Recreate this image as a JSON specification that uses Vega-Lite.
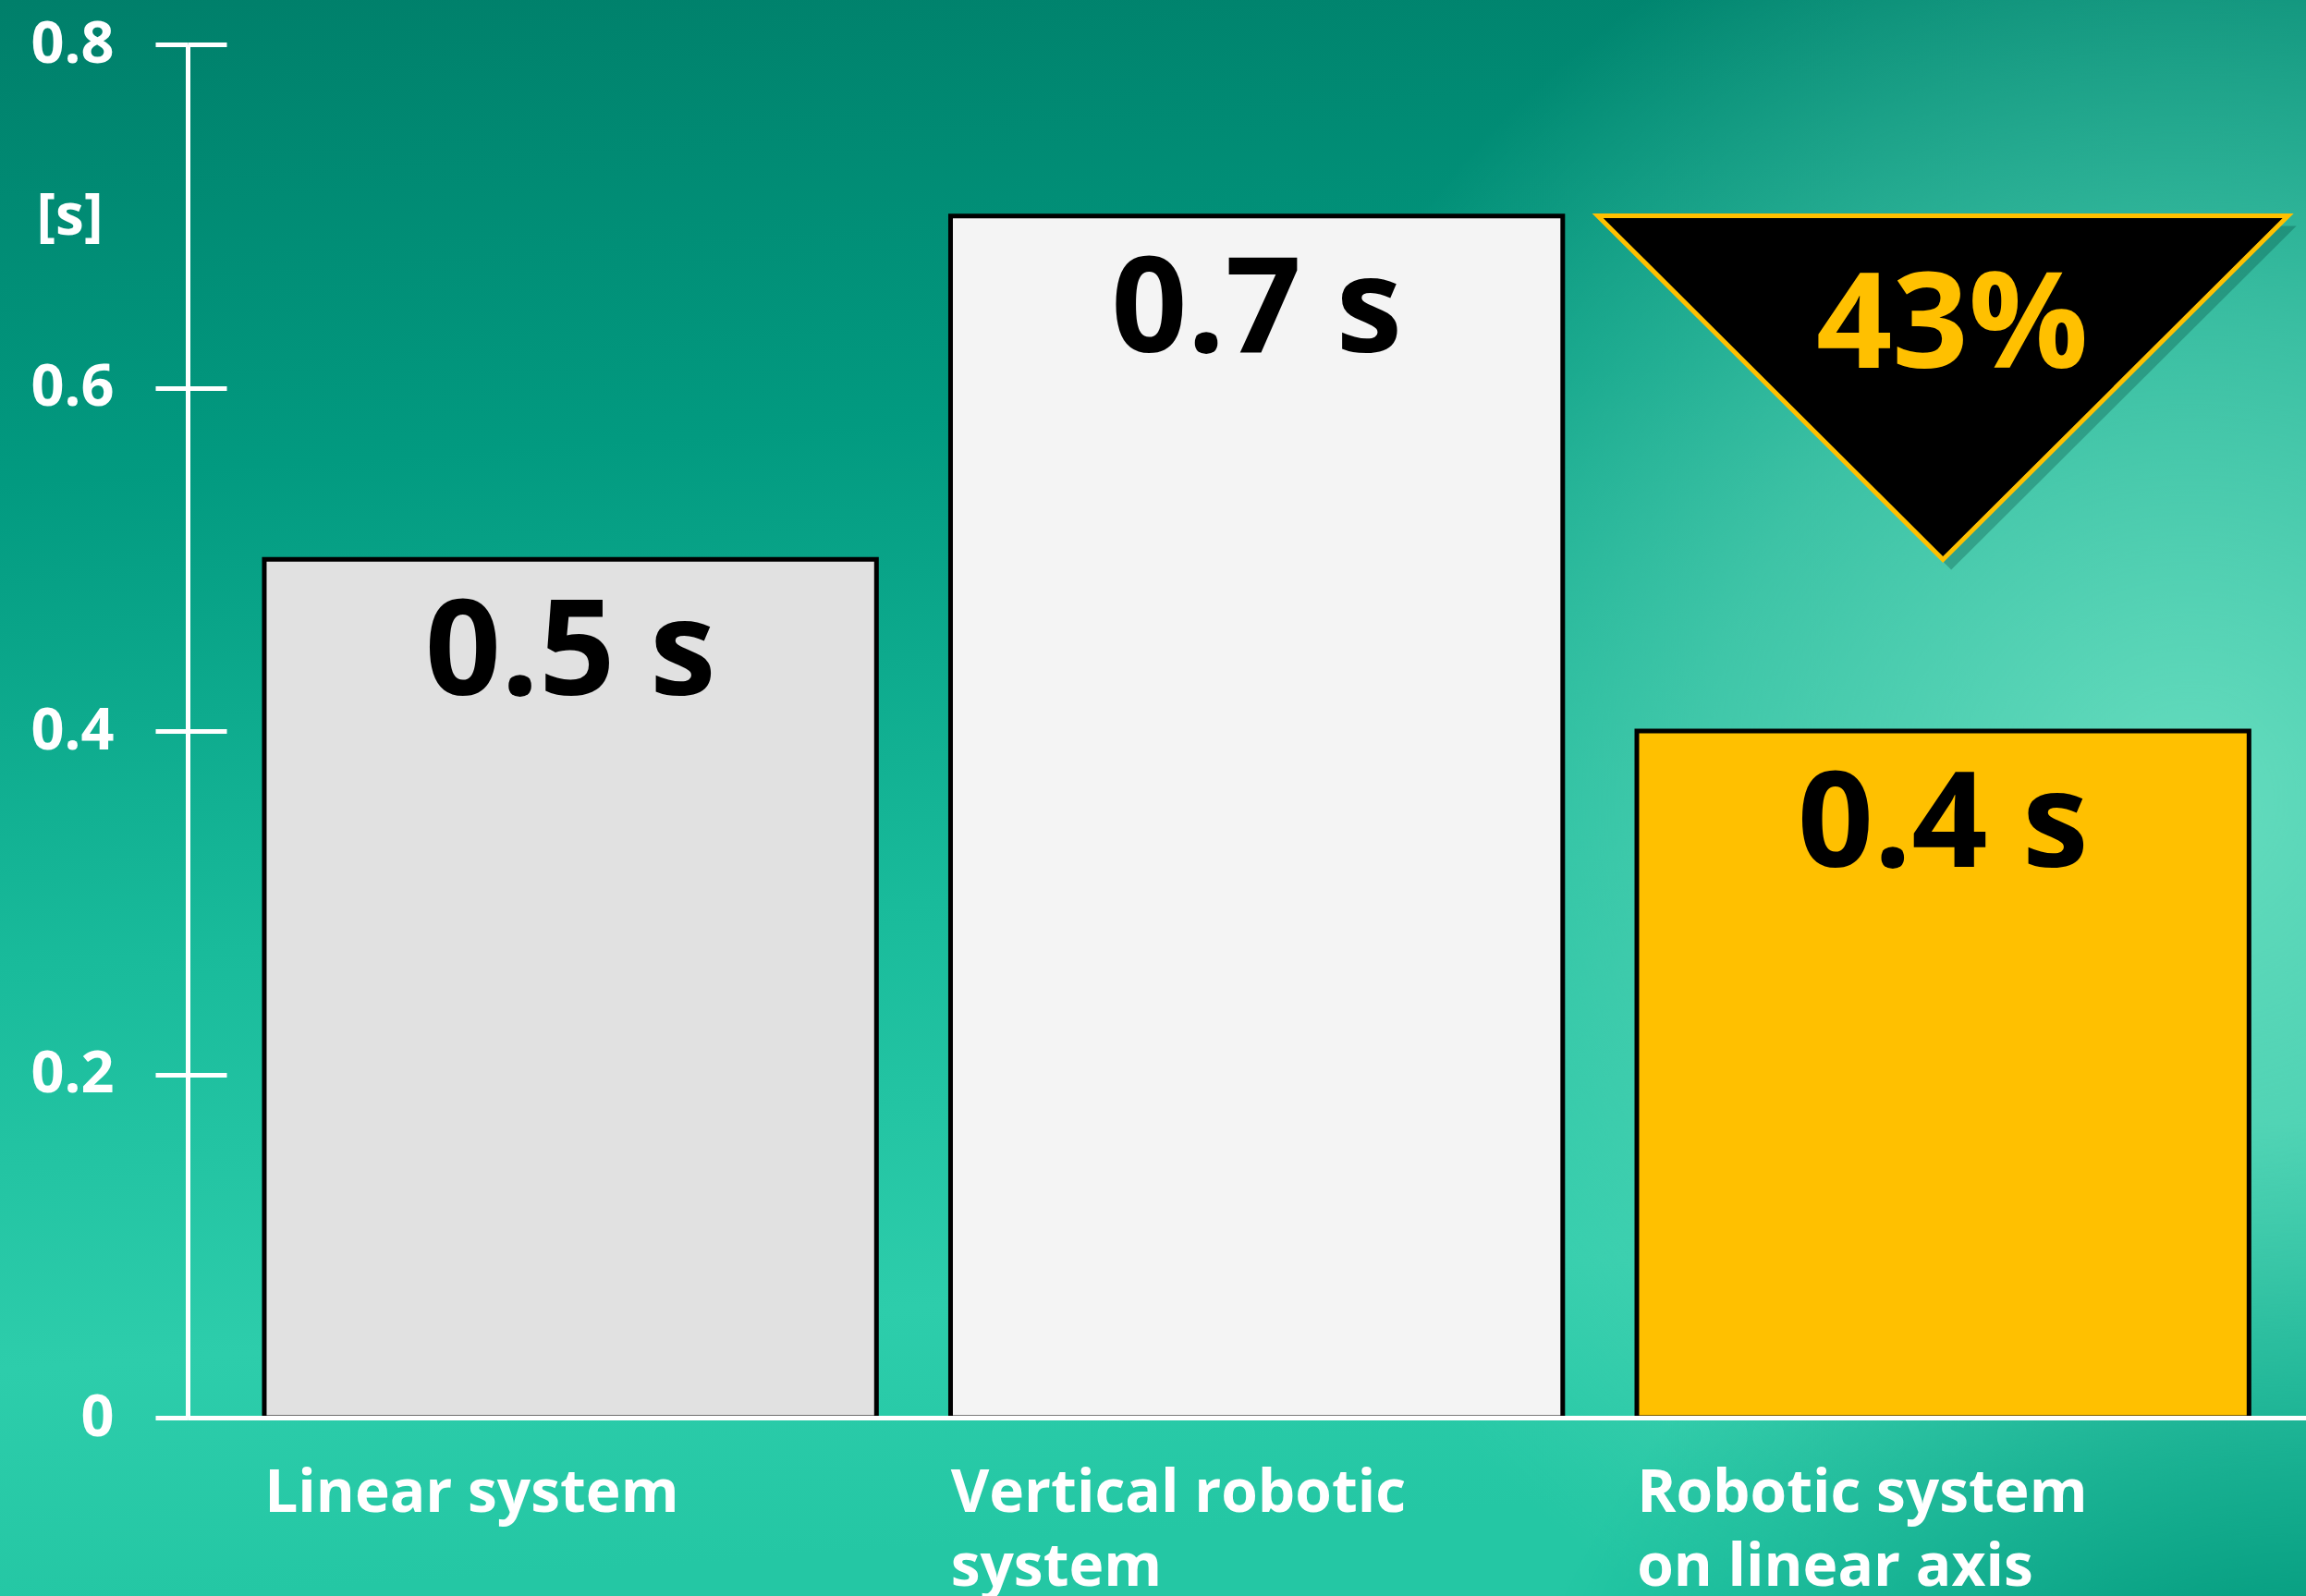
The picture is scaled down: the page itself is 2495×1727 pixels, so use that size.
{
  "$schema": "https://vega.github.io/schema/vega-lite/v6.json",
  "width": 2495,
  "height": 1727,
  "autosize": "none",
  "padding": 0,
  "background": "#15ad90",
  "config": {"view": {"stroke": null}},
  "data": {
    "values": [
      {"system": "Linear system", "time": 0.5, "label": "0.5 s"},
      {"system": "Vertical robotic system", "time": 0.7, "label": "0.7 s"},
      {"system": "Robotic system on linear axis", "time": 0.4, "label": "0.4 s"}
    ]
  },
  "layer": [
    {
      "data": {"values": [{}]},
      "mark": {
        "type": "rect",
        "fill": {
          "gradient": "linear",
          "x1": 0, "y1": 0, "x2": 0.1, "y2": 1,
          "stops": [
            {"offset": 0, "color": "#007f6a"},
            {"offset": 0.3, "color": "#029a80"},
            {"offset": 0.6, "color": "#19bb9b"},
            {"offset": 0.85, "color": "#2dcdab"},
            {"offset": 1, "color": "#24c7a4"}
          ]
        }
      },
      "encoding": {}
    },
    {
      "data": {"values": [{}]},
      "mark": {
        "type": "rect",
        "fill": {
          "gradient": "radial",
          "x1": 0.95, "y1": 0.5, "r1": 0,
          "x2": 0.95, "y2": 0.5, "r2": 0.42,
          "stops": [
            {"offset": 0, "color": "rgba(105,222,192,0.95)"},
            {"offset": 0.5, "color": "rgba(95,214,184,0.6)"},
            {"offset": 1, "color": "rgba(95,214,184,0)"}
          ]
        }
      },
      "encoding": {}
    },
    {
      "data": {"values": [{}]},
      "mark": {
        "type": "rect",
        "fill": {
          "gradient": "radial",
          "x1": 1, "y1": 1, "r1": 0,
          "x2": 1, "y2": 1, "r2": 0.36,
          "stops": [
            {"offset": 0, "color": "rgba(0,122,98,1)"},
            {"offset": 0.4, "color": "rgba(0,150,122,0.85)"},
            {"offset": 1, "color": "rgba(0,165,135,0)"}
          ]
        }
      },
      "encoding": {}
    },
    {
      "mark": {"type": "bar", "stroke": "black", "strokeWidth": 5},
      "encoding": {
        "x": {
          "field": "system",
          "type": "nominal",
          "sort": null,
          "scale": {"range": [203, 2495], "paddingInner": 0.108, "paddingOuter": 0.0974, "align": 0.5736},
          "axis": {
            "orient": "bottom",
            "offset": -193,
            "title": null,
            "domainColor": "white",
            "domainWidth": 5,
            "ticks": false,
            "tickSize": 0,
            "labelOffset": -331,
            "labelAngle": 0,
            "labelAlign": "left",
            "labelBaseline": "top",
            "labelPadding": 50,
            "labelFont": "Open Sans",
            "labelFontWeight": "bold",
            "labelFontSize": 64,
            "labelColor": "white",
            "labelLineHeight": 80,
            "labelLimit": 1200,
            "labelOverlap": false,
            "labelExpr": "datum.label == 'Vertical robotic system' ? ['Vertical robotic', 'system'] : datum.label == 'Robotic system on linear axis' ? ['Robotic system', 'on linear axis'] : datum.label",
            "zindex": 1
          }
        },
        "y": {
          "field": "time",
          "type": "quantitative",
          "scale": {"domain": [0, 0.8], "range": [1534, 48], "nice": false},
          "axis": {
            "values": [0, 0.2, 0.4, 0.6, 0.8],
            "format": "~g",
            "offset": -203,
            "domainColor": "white",
            "domainWidth": 5,
            "tickColor": "white",
            "tickWidth": 5,
            "tickSize": 35,
            "grid": true,
            "gridColor": "white",
            "gridWidth": 5,
            "gridDash": [42, 5000],
            "labelFont": "Open Sans",
            "labelFontWeight": "bold",
            "labelFontSize": 63,
            "labelColor": "white",
            "labelPadding": 45,
            "labelBaseline": "middle",
            "labelAlign": "right",
            "labelFlush": false,
            "labelOverlap": false,
            "title": "[s]",
            "titleAngle": 0,
            "titleX": -128,
            "titleY": 234,
            "titleAlign": "center",
            "titleBaseline": "middle",
            "titleFont": "Open Sans",
            "titleFontWeight": "bold",
            "titleFontSize": 62,
            "titleColor": "white",
            "zindex": 1
          }
        },
        "color": {
          "field": "system",
          "type": "nominal",
          "scale": {
            "domain": ["Linear system", "Vertical robotic system", "Robotic system on linear axis"],
            "range": ["#e1e1e1", "#f4f4f4", "#ffc000"]
          },
          "legend": null
        }
      }
    },
    {
      "mark": {
        "type": "text",
        "baseline": "alphabetic",
        "align": "center",
        "dy": 147,
        "font": "Open Sans",
        "fontWeight": "bold",
        "fontSize": 144,
        "color": "black"
      },
      "encoding": {
        "x": {"field": "system", "type": "nominal", "sort": null},
        "y": {"field": "time", "type": "quantitative"},
        "text": {"field": "label"}
      }
    },
    {
      "data": {"values": [{"system": "Robotic system on linear axis", "saving": "43%"}]},
      "mark": {
        "type": "point",
        "shape": "M-1,-0.498L1,-0.498L0,0.498Z",
        "size": 558009,
        "filled": true,
        "fill": "#00463a",
        "fillOpacity": 0.3,
        "strokeWidth": 0,
        "opacity": 1,
        "xOffset": 9,
        "yOffset": 11
      },
      "encoding": {
        "x": {"field": "system", "type": "nominal", "sort": null},
        "y": {"datum": 0.6, "type": "quantitative"}
      }
    },
    {
      "data": {"values": [{"system": "Robotic system on linear axis", "saving": "43%"}]},
      "mark": {
        "type": "point",
        "shape": "M-1,-0.498L1,-0.498L0,0.498Z",
        "size": 558009,
        "filled": true,
        "fill": "black",
        "stroke": "#ffc000",
        "strokeWidth": 5,
        "opacity": 1
      },
      "encoding": {
        "x": {"field": "system", "type": "nominal", "sort": null},
        "y": {"datum": 0.6, "type": "quantitative"}
      }
    },
    {
      "data": {"values": [{"system": "Robotic system on linear axis", "saving": "43%"}]},
      "mark": {
        "type": "text",
        "baseline": "alphabetic",
        "align": "center",
        "dy": -22,
        "dx": 10,
        "font": "Open Sans",
        "fontWeight": "bold",
        "fontSize": 144,
        "color": "#ffc000"
      },
      "encoding": {
        "x": {"field": "system", "type": "nominal", "sort": null},
        "y": {"datum": 0.6, "type": "quantitative"},
        "text": {"field": "saving"}
      }
    }
  ]
}
